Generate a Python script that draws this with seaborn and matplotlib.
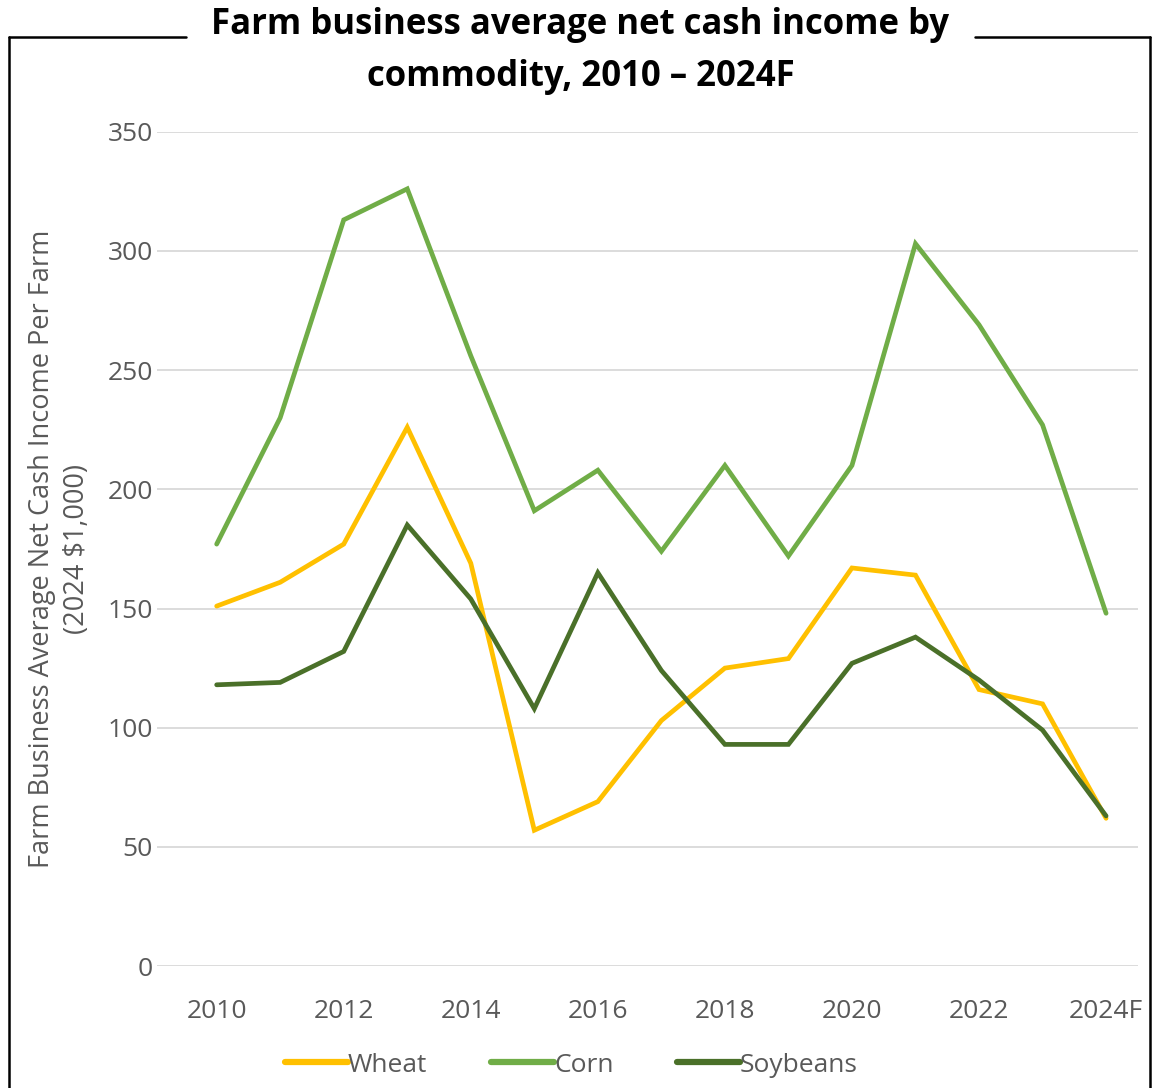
import matplotlib
matplotlib.use("Agg")
import matplotlib.pyplot as plt
from matplotlib.lines import Line2D
import seaborn as sns
import pandas as pd

years = ["2010", "2011", "2012", "2013", "2014", "2015", "2016", "2017",
         "2018", "2019", "2020", "2021", "2022", "2023", "2024F"]
wheat = [151, 161, 177, 226, 169, 57, 69, 103, 125, 129, 167, 164, 116, 110, 62]
corn = [177, 230, 313, 326, 256, 191, 208, 174, 210, 172, 210, 303, 269, 227, 148]
soybeans = [118, 119, 132, 185, 154, 108, 165, 124, 93, 93, 127, 138, 120, 99, 63]

series_names = ["Wheat", "Corn", "Soybeans"]
colors = {"Wheat": "#FFC000", "Corn": "#70AD47", "Soybeans": "#4A7029"}

rows = []
for name, vals in zip(series_names, [wheat, corn, soybeans]):
    for i, v in enumerate(vals):
        rows.append({"idx": i, "year": years[i], "value": v, "commodity": name})
df = pd.DataFrame(rows)

sns.set_theme(style="white")
plt.rcParams["font.family"] = ["Open Sans", "DejaVu Sans"]

fig = plt.figure(figsize=(11.54, 10.88), dpi=100)
ax = fig.add_axes([0.136, 0.112, 0.850, 0.767])

sns.lineplot(data=df, x="idx", y="value", hue="commodity", palette=colors,
             hue_order=series_names, linewidth=3.4, ax=ax, legend=False,
             solid_capstyle="round", solid_joinstyle="miter")

ax.set_xlim(-0.94, 14.5)
ax.set_ylim(0, 350)
ax.set_yticks(range(0, 351, 50))
ax.set_xticks(range(0, 15, 2))
ax.set_xticklabels([years[i] for i in range(0, 15, 2)])
ax.tick_params(axis="both", labelsize=19, labelcolor="#595959", length=0)
ax.tick_params(axis="x", pad=24)
ax.tick_params(axis="y", pad=3)
ax.grid(axis="y", color="#D9D9D9", linewidth=1.3)
ax.set_axisbelow(True)
for s in ax.spines.values():
    s.set_visible(False)
ax.set_xlabel("")
ax.set_ylabel("Farm Business Average Net Cash Income Per Farm\n(2024 $1,000)",
              fontsize=19.5, color="#595959", labelpad=12, linespacing=1.3)

handles = [Line2D([0], [0], color=colors[n], linewidth=4.5, solid_capstyle="round")
           for n in series_names]
fig.legend(handles, series_names, loc="center", bbox_to_anchor=(0.495, 0.021),
           ncol=3, frameon=False, fontsize=19, labelcolor="#595959",
           handlelength=2.4, handletextpad=0.0, columnspacing=2.4)

fig.text(0.503, 0.977, "Farm business average net cash income by",
         ha="center", va="center", fontsize=25, fontweight="bold", color="black")
fig.text(0.503, 0.929, "commodity, 2010 \u2013 2024F",
         ha="center", va="center", fontsize=25, fontweight="bold", color="black")

# Outer frame with a gap for the title
ytop = 1 - 37 / 1088
frame_kw = dict(color="black", linewidth=1.8, transform=fig.transFigure)
fig.add_artist(Line2D([0.008, 0.008], [0.0, ytop], **frame_kw))
fig.add_artist(Line2D([0.9965, 0.9965], [0.0, ytop], **frame_kw))
fig.add_artist(Line2D([0.008, 0.161], [ytop, ytop], **frame_kw))
fig.add_artist(Line2D([0.845, 0.9965], [ytop, ytop], **frame_kw))

fig.savefig("out.png", dpi=100, facecolor="white")
